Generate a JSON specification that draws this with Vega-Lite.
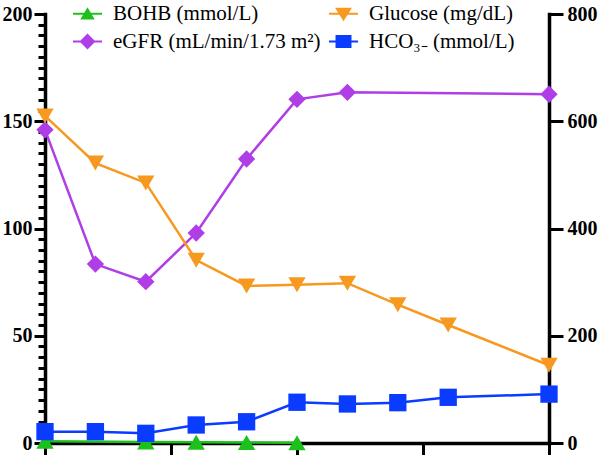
{
  "$schema": "https://vega.github.io/schema/vega-lite/v6.json",
  "width": 504,
  "height": 429,
  "autosize": {"type": "none"},
  "padding": {"left": 45, "top": 14, "right": 49, "bottom": 12},
  "background": "white",
  "config": {
    "view": {"stroke": null},
    "font": "Liberation Serif",
    "axis": {
      "grid": false,
      "title": null,
      "domainColor": "black",
      "domainWidth": 3.5,
      "domainCap": "square",
      "tickColor": "black",
      "tickWidth": 3,
      "labelFont": "Liberation Serif",
      "labelFontWeight": "bold",
      "labelFontSize": 20,
      "labelColor": "black"
    }
  },
  "data": {
    "values": [
      {"series": "BOHB (mmol/L)", "x": 0, "value": 0.8},
      {"series": "BOHB (mmol/L)", "x": 4, "value": 0.5},
      {"series": "BOHB (mmol/L)", "x": 6, "value": 0.3},
      {"series": "BOHB (mmol/L)", "x": 8, "value": 0.2},
      {"series": "BOHB (mmol/L)", "x": 10, "value": 0.1},
      {"series": "eGFR (mL/min/1.73 m²)", "x": 0, "value": 146},
      {"series": "eGFR (mL/min/1.73 m²)", "x": 2, "value": 83.4},
      {"series": "eGFR (mL/min/1.73 m²)", "x": 4, "value": 75.2},
      {"series": "eGFR (mL/min/1.73 m²)", "x": 6, "value": 97.9},
      {"series": "eGFR (mL/min/1.73 m²)", "x": 8, "value": 132.4},
      {"series": "eGFR (mL/min/1.73 m²)", "x": 10, "value": 160.2},
      {"series": "eGFR (mL/min/1.73 m²)", "x": 12, "value": 163.5},
      {"series": "eGFR (mL/min/1.73 m²)", "x": 20, "value": 162.6},
      {"series": "Glucose (mg/dL)", "x": 0, "value": 610},
      {"series": "Glucose (mg/dL)", "x": 2, "value": 522},
      {"series": "Glucose (mg/dL)", "x": 4, "value": 485},
      {"series": "Glucose (mg/dL)", "x": 6, "value": 341},
      {"series": "Glucose (mg/dL)", "x": 8, "value": 293},
      {"series": "Glucose (mg/dL)", "x": 10, "value": 295},
      {"series": "Glucose (mg/dL)", "x": 12, "value": 298},
      {"series": "Glucose (mg/dL)", "x": 14, "value": 258},
      {"series": "Glucose (mg/dL)", "x": 16, "value": 220},
      {"series": "Glucose (mg/dL)", "x": 20, "value": 145},
      {"series": "HCO₃₋ (mmol/L)", "x": 0, "value": 5.3},
      {"series": "HCO₃₋ (mmol/L)", "x": 2, "value": 5.3},
      {"series": "HCO₃₋ (mmol/L)", "x": 4, "value": 4.5},
      {"series": "HCO₃₋ (mmol/L)", "x": 6, "value": 8.4},
      {"series": "HCO₃₋ (mmol/L)", "x": 8, "value": 9.9},
      {"series": "HCO₃₋ (mmol/L)", "x": 10, "value": 19},
      {"series": "HCO₃₋ (mmol/L)", "x": 12, "value": 18.2},
      {"series": "HCO₃₋ (mmol/L)", "x": 14, "value": 18.8},
      {"series": "HCO₃₋ (mmol/L)", "x": 16, "value": 21.3},
      {"series": "HCO₃₋ (mmol/L)", "x": 20, "value": 22.8}
    ]
  },
  "encoding": {
    "x": {
      "field": "x",
      "type": "quantitative",
      "scale": {"domain": [0, 20], "nice": false, "zero": false},
      "axis": {"values": [0, 5, 10, 15, 20], "labels": false, "tickSize": 12}
    }
  },
  "layer": [
    {
      "transform": [{"filter": "datum.x < 0"}],
      "mark": {"type": "point", "filled": true},
      "encoding": {
        "y": {"field": "value", "type": "quantitative", "axis": null},
        "color": {
          "field": "series",
          "type": "nominal",
          "scale": {
            "domain": ["BOHB (mmol/L)", "eGFR (mL/min/1.73 m²)", "Glucose (mg/dL)", "HCO₃₋ (mmol/L)"],
            "range": ["#1dc11d", "#b03ee6", "#f7981f", "#0a3cff"]
          },
          "legend": {
            "title": null,
            "orient": "none",
            "legendX": 28,
            "legendY": -15,
            "columns": 2,
            "columnPadding": 8,
            "rowPadding": 3,
            "symbolSize": 841,
            "symbolOpacity": 1,
            "symbolStrokeWidth": 0,
            "labelFont": "Liberation Serif",
            "labelFontSize": 21,
            "labelColor": "black",
            "labelOffset": 11,
            "labelLimit": 400,
            "padding": 0
          }
        },
        "shape": {
          "field": "series",
          "type": "nominal",
          "scale": {
            "domain": ["BOHB (mmol/L)", "eGFR (mL/min/1.73 m²)", "Glucose (mg/dL)", "HCO₃₋ (mmol/L)"],
            "range": [
              "M-1,-0.07H1V0.07H-1Z M0,-0.45L0.5,0.4L-0.5,0.4Z",
              "M-1,-0.07H1V0.07H-1Z M0,-0.55L0.55,0L0,0.55L-0.55,0Z",
              "M-1,-0.07H1V0.07H-1Z M-0.58,-0.42L0.58,-0.42L0,0.52Z",
              "M-1,-0.07H1V0.07H-1Z M-0.55,-0.45H0.55V0.45H-0.55Z"
            ]
          },
          "legend": {
            "title": null,
            "orient": "none",
            "legendX": 28,
            "legendY": -15,
            "columns": 2,
            "columnPadding": 8,
            "rowPadding": 3,
            "symbolSize": 841,
            "symbolOpacity": 1,
            "symbolStrokeWidth": 0,
            "labelFont": "Liberation Serif",
            "labelFontSize": 21,
            "labelColor": "black",
            "labelOffset": 11,
            "labelLimit": 400,
            "padding": 0
          }
        }
      }
    },
    {
      "transform": [{"filter": "datum.series !== 'Glucose (mg/dL)'"}],
      "encoding": {
        "y": {
          "field": "value",
          "type": "quantitative",
          "scale": {"domain": [0, 200], "nice": false},
          "axis": {
            "orient": "left",
            "values": [0, 5, 10, 15, 20, 25, 30, 35, 40, 45, 50, 55, 60, 65, 70, 75, 80, 85, 90, 95, 100, 105, 110, 115, 120, 125, 130, 135, 140, 145, 150, 155, 160, 165, 170, 175, 180, 185, 190, 195, 200],
            "labelExpr": "datum.value % 50 === 0 ? datum.label : ''",
            "tickSize": {"condition": {"test": "datum.value % 50 === 0", "value": 11}, "value": 7},
            "labelPadding": 2
          }
        },
        "color": {"field": "series", "type": "nominal", "legend": null}
      },
      "layer": [
        {"mark": {"type": "line", "strokeWidth": 2.5}},
        {
          "mark": {"type": "point", "filled": true, "opacity": 1, "size": 300},
          "encoding": {
            "shape": {
              "condition": [
                {"test": "datum.series === 'BOHB (mmol/L)'", "value": "triangle-up"},
                {"test": "datum.series === 'eGFR (mL/min/1.73 m²)'", "value": "diamond"}
              ],
              "value": "square"
            }
          }
        }
      ]
    },
    {
      "transform": [{"filter": "datum.series === 'Glucose (mg/dL)'"}],
      "encoding": {
        "y": {
          "field": "value",
          "type": "quantitative",
          "scale": {"domain": [0, 800], "nice": false},
          "axis": {
            "orient": "right",
            "values": [0, 200, 400, 600, 800],
            "tickSize": 14,
            "labelPadding": 4
          }
        },
        "color": {"field": "series", "type": "nominal", "legend": null}
      },
      "layer": [
        {"mark": {"type": "line", "strokeWidth": 2.5}},
        {"mark": {"type": "point", "filled": true, "opacity": 1, "size": 300, "shape": "triangle-down"}}
      ]
    }
  ],
  "resolve": {"scale": {"y": "independent"}}
}
